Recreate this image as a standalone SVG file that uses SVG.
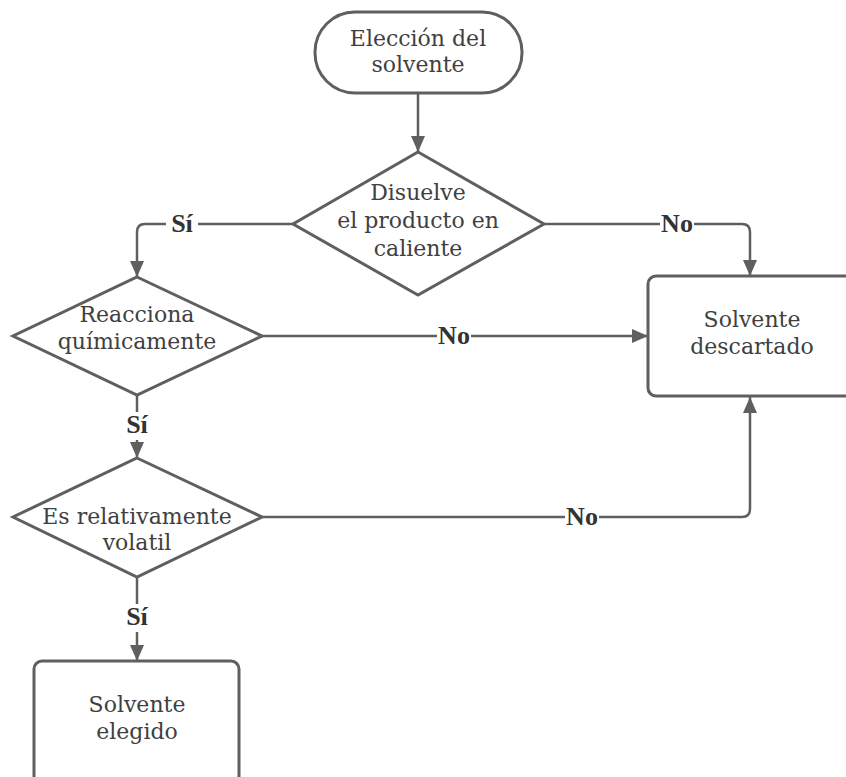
<svg xmlns="http://www.w3.org/2000/svg" width="846" height="777" viewBox="0 0 846 777">
<style>
.shape{fill:#ffffff;stroke:#5f5f5f;stroke-width:3}
.t{font-family:"DejaVu Serif","Liberation Serif",serif;font-size:22px;fill:#404040;text-anchor:middle}
.lbl{font-family:"Liberation Serif","Times New Roman",serif;font-size:26px;font-weight:bold;fill:#333333;text-anchor:middle}
.c{fill:none;stroke:#5f5f5f;stroke-width:2.5}
.bg{fill:#ffffff}
</style>
<defs>
<marker id="arr" markerUnits="userSpaceOnUse" markerWidth="16" markerHeight="14" refX="16" refY="7" orient="auto">
<path d="M0,0 L16,7 L0,14 z" fill="#5f5f5f"/>
</marker>
</defs>
<rect width="846" height="777" fill="#ffffff"/>
<g id="connectors">
<path class="c" d="M418,93 L418,152" marker-end="url(#arr)"/>
<path class="c" d="M293,224 L145,224 Q137,224 137,232 L137,277" marker-end="url(#arr)"/>
<path class="c" d="M544,224 L742,224 Q750,224 750,232 L750,276" marker-end="url(#arr)"/>
<path class="c" d="M262,336 L648,336" marker-end="url(#arr)"/>
<path class="c" d="M137,395 L137,458" marker-end="url(#arr)"/>
<path class="c" d="M262,517 L742,517 Q750,517 750,509 L750,397" marker-end="url(#arr)"/>
<path class="c" d="M137,577 L137,661" marker-end="url(#arr)"/>
<rect class="bg" x="166" y="212" width="32" height="24"/>
<text class="lbl" x="182" y="232">Sí</text>
<rect class="bg" x="660" y="212" width="34" height="24"/>
<text class="lbl" x="677" y="232">No</text>
<rect class="bg" x="437" y="324" width="34" height="24"/>
<text class="lbl" x="454" y="344">No</text>
<rect class="bg" x="121" y="412" width="32" height="28"/>
<text class="lbl" x="137" y="433">Sí</text>
<rect class="bg" x="565" y="505" width="34" height="24"/>
<text class="lbl" x="582" y="525">No</text>
<rect class="bg" x="121" y="604" width="32" height="28"/>
<text class="lbl" x="137" y="625">Sí</text>
</g>
<g id="start">
<rect class="shape" x="315" y="12" width="207" height="81" rx="40" ry="40"/>
<text class="t" x="418" y="46">Elección del</text>
<text class="t" x="418" y="72">solvente</text>
</g>
<g id="dec1">
<polygon class="shape" points="418,152 544,224 418,295 293,224"/>
<text class="t" x="418" y="200">Disuelve</text>
<text class="t" x="418" y="228">el producto en</text>
<text class="t" x="418" y="256">caliente</text>
</g>
<g id="dec2">
<polygon class="shape" points="137,277 262,336 137,395 13,336"/>
<text class="t" x="137" y="322">Reacciona</text>
<text class="t" x="137" y="349">químicamente</text>
</g>
<g id="dec3">
<polygon class="shape" points="137,458 262,517 137,577 13,517"/>
<text class="t" x="137" y="524">Es relativamente</text>
<text class="t" x="137" y="550">volatil</text>
</g>
<g id="discarded">
<rect class="shape" x="648" y="276" width="210" height="120" rx="8" ry="8"/>
<text class="t" x="752" y="327">Solvente</text>
<text class="t" x="752" y="354">descartado</text>
</g>
<g id="chosen">
<rect class="shape" x="34" y="661" width="205" height="130" rx="8" ry="8"/>
<text class="t" x="137" y="712">Solvente</text>
<text class="t" x="137" y="739">elegido</text>
</g>
</svg>
